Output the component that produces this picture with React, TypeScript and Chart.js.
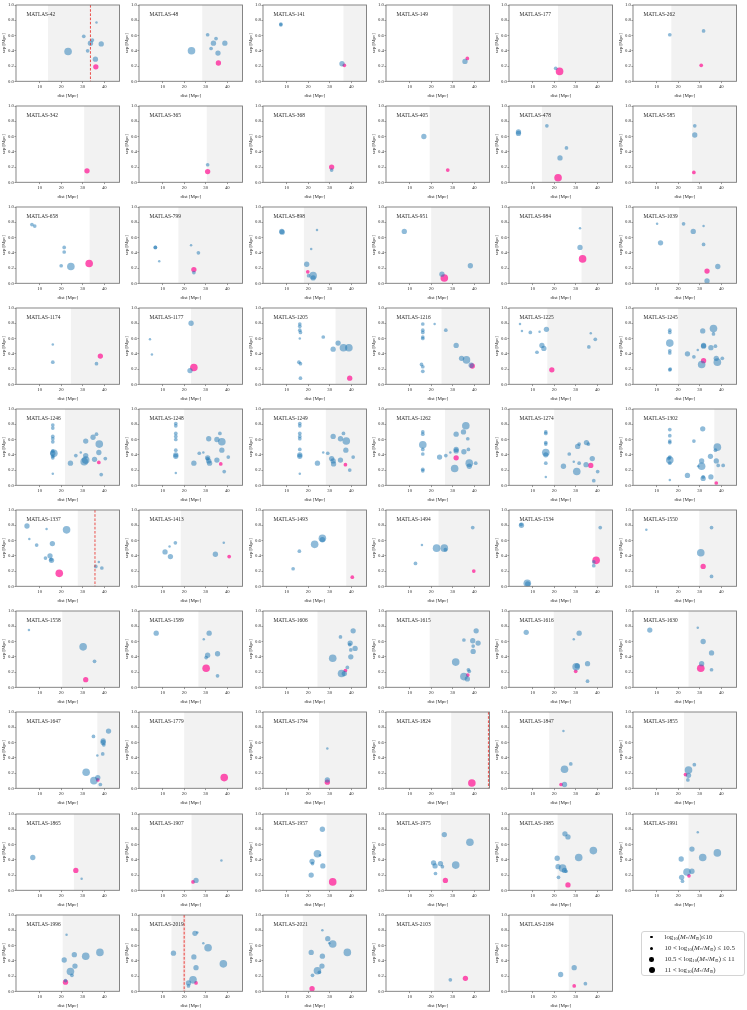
import React, { useEffect, useRef } from "react";
import { Chart, registerables } from "chart.js";

Chart.register(...registerables);

type Pt = [number, number, number]; // x [Mpc], sep [Mpc], mass class 1..4

const names: string[] = [
  "MATLAS-42", "MATLAS-48", "MATLAS-141", "MATLAS-149", "MATLAS-177", "MATLAS-262",
  "MATLAS-342", "MATLAS-365", "MATLAS-368", "MATLAS-405", "MATLAS-478", "MATLAS-585",
  "MATLAS-658", "MATLAS-799", "MATLAS-898", "MATLAS-951", "MATLAS-984", "MATLAS-1039",
  "MATLAS-1174", "MATLAS-1177", "MATLAS-1205", "MATLAS-1216", "MATLAS-1225", "MATLAS-1245",
  "MATLAS-1246", "MATLAS-1248", "MATLAS-1249", "MATLAS-1262", "MATLAS-1274", "MATLAS-1302",
  "MATLAS-1337", "MATLAS-1413", "MATLAS-1493", "MATLAS-1494", "MATLAS-1534", "MATLAS-1550",
  "MATLAS-1558", "MATLAS-1589", "MATLAS-1606", "MATLAS-1615", "MATLAS-1616", "MATLAS-1630",
  "MATLAS-1647", "MATLAS-1779", "MATLAS-1794", "MATLAS-1824", "MATLAS-1847", "MATLAS-1855",
  "MATLAS-1865", "MATLAS-1907", "MATLAS-1957", "MATLAS-1975", "MATLAS-1985", "MATLAS-1991",
  "MATLAS-1996", "MATLAS-2019", "MATLAS-2021", "MATLAS-2103", "MATLAS-2184",
];

const shadeFrom: number[] = [
  13.9, 28.4, 36.4, 30.0, 21.8, 16.8,
  30.7, 30.5, 27.7, 19.3, 14.3, 26.4,
  33.2, 17.3, 18.0, 20.0, 32.7, 20.5,
  24.5, 23.2, 32.7, 24.8, 16.8, 20.0,
  21.8, 20.0, 28.2, 26.4, 20.0, 36.8,
  27.7, 18.4, 37.7, 23.4, 39.1, 29.8,
  20.5, 26.6, 24.3, 19.3, 19.8, 24.8,
  36.8, 20.0, 25.0, 29.3, 17.7, 22.7,
  25.9, 23.4, 28.6, 24.5, 21.6, 24.8,
  20.7, 14.1, 17.5, 21.4, 26.8,
];

// [panel index, x of red dashed line]
const dashLines: [number, number][] = [[0, 33.6], [30, 35.7], [45, 46.6], [55, 20.0]];
// [panel index, from, to] light red band
const dashBands: [number, number, number][] = [[55, 19.4, 20.6]];

const bluePts: Pt[][] = [
  [[36.4,0.77,1],[30.5,0.59,2],[34.5,0.54,2],[33.6,0.50,3],[38.6,0.49,3],[23.2,0.39,4],[32.3,0.40,2],[35.9,0.29,3]],
  [[30.9,0.61,2],[34.8,0.56,2],[33.6,0.50,3],[38.9,0.50,3],[32.5,0.43,2],[35.7,0.37,3],[23.4,0.40,4]],
  [[7.3,0.75,2],[7.3,0.74,2],[35.7,0.23,3]],
  [[35.7,0.26,3]],
  [[20.7,0.17,2]],
  [[16.1,0.61,2],[31.8,0.66,2]],
  [],
  [[30.9,0.23,2]],
  [[30.9,0.16,2]],
  [[16.6,0.60,3]],
  [[3.4,0.66,3],[3.4,0.64,3],[16.6,0.74,2],[25.7,0.45,2],[22.7,0.32,3]],
  [[27.7,0.74,2],[27.7,0.62,3]],
  [[6.4,0.77,2],[7.7,0.75,2],[21.4,0.47,2],[21.4,0.41,2],[20.0,0.23,2],[24.5,0.22,4]],
  [[6.6,0.47,2],[6.6,0.47,2],[8.4,0.29,1],[23.2,0.50,1],[26.6,0.40,2],[24.5,0.14,2]],
  [[7.7,0.68,3],[7.9,0.67,3],[24.1,0.70,1],[21.4,0.45,1],[19.3,0.25,3],[22.3,0.10,4],[20.2,0.10,2],[22.3,0.07,3]],
  [[7.5,0.68,3],[25.0,0.12,3],[38.2,0.23,3]],
  [[32.0,0.72,1],[32.0,0.47,3]],
  [[10.2,0.78,1],[11.8,0.53,3],[22.5,0.78,2],[27.0,0.68,3],[31.8,0.75,1],[31.8,0.51,2],[38.4,0.22,3],[33.4,0.03,3]],
  [[16.1,0.52,1],[16.1,0.29,2],[36.4,0.27,2]],
  [[4.1,0.59,1],[5.0,0.39,1],[23.2,0.80,3],[22.7,0.18,3]],
  [[16.1,0.79,2],[16.1,0.76,2],[16.1,0.71,2],[16.4,0.68,2],[16.1,0.60,1],[15.7,0.29,2],[16.4,0.27,2],[16.4,0.08,2],[27.0,0.62,2],[31.6,0.46,3],[33.9,0.54,3],[36.4,0.48,4],[38.9,0.48,4]],
  [[16.1,0.79,2],[16.1,0.71,2],[16.1,0.68,2],[16.1,0.62,2],[16.1,0.60,2],[15.5,0.26,2],[16.1,0.23,2],[16.1,0.17,2],[21.6,0.79,1],[26.8,0.71,2],[31.6,0.51,3],[34.1,0.34,3],[36.4,0.32,4],[38.6,0.25,3]],
  [[4.1,0.79,1],[5.0,0.70,1],[8.9,0.68,2],[13.2,0.69,1],[16.4,0.72,3],[12.0,0.42,2],[14.3,0.51,3],[15.2,0.47,3],[37.0,0.67,1],[39.1,0.59,2],[36.1,0.49,2]],
  [[16.1,0.71,2],[16.1,0.68,2],[16.1,0.54,4],[16.1,0.44,2],[16.1,0.41,2],[16.1,0.19,2],[16.3,0.20,2],[24.3,0.40,3],[27.3,0.36,2],[29.1,0.45,1],[31.4,0.70,3],[31.8,0.50,3],[31.8,0.51,3],[30.9,0.26,4],[35.2,0.48,3],[36.4,0.73,4],[36.4,0.66,2],[37.3,0.50,2],[37.7,0.34,3],[38.2,0.29,4],[40.5,0.34,2]],
  [[16.1,0.79,2],[16.1,0.75,2],[16.1,0.64,2],[16.1,0.61,2],[16.1,0.57,2],[16.1,0.45,2],[16.1,0.42,3],[16.1,0.38,2],[16.1,0.36,2],[16.1,0.15,1],[16.6,0.42,4],[24.3,0.29,3],[26.8,0.39,2],[29.1,0.43,1],[31.4,0.58,3],[31.4,0.39,3],[31.4,0.33,4],[30.7,0.31,4],[34.8,0.63,3],[36.4,0.67,2],[35.5,0.34,3],[37.7,0.54,4],[37.5,0.43,3],[40.5,0.35,2],[38.6,0.14,2]],
  [[16.1,0.81,2],[16.1,0.78,2],[16.1,0.68,2],[16.1,0.64,2],[16.1,0.60,2],[16.1,0.46,2],[16.1,0.40,3],[16.1,0.38,3],[16.1,0.16,1],[24.5,0.29,3],[27.0,0.42,2],[28.9,0.43,1],[31.4,0.61,3],[30.9,0.36,3],[31.4,0.32,3],[31.8,0.29,3],[30.9,0.35,2],[35.2,0.60,3],[36.6,0.68,2],[37.5,0.57,4],[37.5,0.46,3],[35.2,0.33,3],[40.5,0.37,2],[38.6,0.18,2]],
  [[16.1,0.81,2],[16.1,0.78,2],[16.1,0.68,2],[16.1,0.64,2],[16.1,0.61,2],[16.1,0.47,2],[16.1,0.40,3],[16.1,0.38,3],[16.1,0.15,1],[24.3,0.29,3],[27.0,0.43,1],[29.1,0.42,2],[31.6,0.64,3],[30.9,0.35,3],[31.6,0.32,3],[31.8,0.28,3],[35.0,0.61,3],[36.4,0.68,2],[37.7,0.58,4],[37.5,0.46,3],[35.0,0.33,3],[40.9,0.37,2],[39.3,0.20,2]],
  [[16.1,0.70,2],[16.1,0.67,2],[16.1,0.53,4],[16.1,0.47,2],[16.1,0.41,2],[16.1,0.21,2],[16.1,0.19,2],[23.9,0.37,3],[26.8,0.39,2],[28.9,0.43,1],[31.6,0.67,3],[31.6,0.47,3],[31.6,0.45,3],[30.9,0.22,4],[35.0,0.70,3],[36.1,0.78,4],[37.0,0.61,2],[37.3,0.47,2],[35.2,0.44,3],[37.7,0.29,4],[37.7,0.25,3],[40.7,0.29,2]],
  [[16.1,0.70,2],[16.1,0.68,2],[16.1,0.56,2],[16.1,0.54,2],[16.1,0.43,4],[16.1,0.40,3],[16.1,0.29,2],[16.1,0.11,1],[24.3,0.25,3],[27.0,0.41,2],[29.1,0.31,1],[30.9,0.51,3],[31.6,0.54,2],[30.5,0.18,4],[31.6,0.29,2],[35.0,0.56,3],[35.9,0.54,2],[37.7,0.35,3],[40.2,0.18,2],[38.4,0.06,2],[34.8,0.27,3]],
  [[16.1,0.73,2],[16.1,0.65,2],[16.1,0.58,2],[16.1,0.56,2],[16.1,0.37,2],[16.1,0.33,4],[16.1,0.29,2],[16.1,0.07,1],[15.7,0.35,2],[24.3,0.13,3],[27.3,0.58,2],[29.3,0.25,1],[31.4,0.74,3],[30.9,0.32,3],[30.9,0.25,4],[31.6,0.09,3],[31.6,0.11,2],[35.0,0.38,3],[37.3,0.46,2],[38.2,0.50,4],[35.2,0.11,3],[37.7,0.32,3],[38.6,0.26,2],[40.9,0.26,2]],
  [[4.1,0.79,3],[5.2,0.62,1],[8.6,0.54,2],[13.2,0.75,1],[22.5,0.74,4],[15.9,0.56,3],[12.7,0.37,2],[14.8,0.40,3],[15.5,0.34,3],[15.3,0.35,2],[37.5,0.32,1],[36.1,0.26,2],[38.9,0.24,2]],
  [[11.1,0.45,3],[13.2,0.52,1],[15.9,0.57,2],[13.6,0.39,3],[34.5,0.42,3],[38.4,0.57,1]],
  [[13.0,0.23,2],[15.9,0.46,2],[23.0,0.55,4],[26.6,0.63,4],[26.6,0.61,3]],
  [[12.7,0.30,2],[15.7,0.54,1],[22.5,0.50,4],[26.1,0.50,4],[26.6,0.48,2],[39.3,0.77,2]],
  [[4.8,0.80,3],[4.6,0.81,2],[7.5,0.04,4],[7.7,0.03,3],[38.4,0.32,2],[38.4,0.27,2],[41.4,0.77,2]],
  [[5.2,0.74,1],[30.5,0.44,4],[35.5,0.77,2],[35.5,0.13,2]],
  [[5.0,0.75,1],[30.2,0.53,4],[35.5,0.34,2]],
  [[7.0,0.71,3],[29.1,0.63,1],[31.6,0.71,3],[30.9,0.42,3],[30.2,0.39,2],[35.5,0.44,3],[35.5,0.15,2]],
  [[31.4,0.38,4],[35.0,0.66,2],[40.9,0.74,3],[39.5,0.58,3],[39.3,0.56,2],[39.8,0.49,2],[39.8,0.40,3],[41.8,0.51,3],[38.2,0.26,2],[35.5,0.18,4],[36.8,0.18,3]],
  [[35.2,0.62,2],[40.9,0.74,3],[39.3,0.61,3],[41.8,0.58,3],[39.5,0.54,2],[39.5,0.47,3],[31.4,0.33,4],[35.2,0.14,4],[37.3,0.23,2],[37.7,0.21,2],[36.8,0.11,3]],
  [[7.0,0.72,3],[29.1,0.63,1],[31.6,0.71,3],[30.2,0.27,4],[30.7,0.28,3],[35.5,0.31,3],[35.5,0.08,2]],
  [[6.8,0.75,3],[29.1,0.78,1],[31.6,0.60,3],[35.5,0.45,3],[30.9,0.31,3],[35.5,0.23,2]],
  [[35.0,0.68,2],[42.0,0.75,3],[39.5,0.62,3],[39.5,0.60,3],[39.8,0.57,2],[39.3,0.45,2],[36.8,0.43,1],[31.6,0.21,4],[35.2,0.10,4],[37.0,0.14,3],[38.2,0.05,2]],
  [],
  [[28.9,0.52,1],[28.9,0.11,3]],
  [],
  [[24.3,0.75,1],[27.7,0.32,2],[24.8,0.25,4],[24.8,0.05,3]],
  [[27.5,0.31,2],[24.8,0.24,4],[24.8,0.17,3],[24.5,0.11,2]],
  [[6.8,0.43,3],[29.5,0.15,1]],
  [[37.3,0.39,1],[25.5,0.13,3]],
  [[26.6,0.80,3],[24.3,0.48,4],[25.5,0.46,1],[21.8,0.38,3],[22.0,0.35,2],[26.8,0.32,3],[21.4,0.20,3]],
  [[26.1,0.73,3],[38.0,0.63,4],[21.1,0.36,3],[21.8,0.32,3],[24.3,0.35,3],[25.2,0.31,2],[31.4,0.33,4],[22.0,0.22,2]],
  [[25.0,0.74,3],[26.4,0.70,3],[21.4,0.42,3],[21.8,0.31,3],[23.9,0.29,4],[24.8,0.26,3],[25.5,0.25,2],[22.0,0.17,2],[31.4,0.43,4],[38.2,0.52,4]],
  [[29.1,0.76,1],[26.4,0.54,3],[21.4,0.41,3],[31.4,0.43,4],[38.2,0.49,4],[24.1,0.24,4],[26.4,0.25,3],[21.6,0.17,3],[22.0,0.12,2]],
  [[22.5,0.74,1],[21.4,0.41,3],[26.1,0.48,3],[31.4,0.46,4],[38.0,0.51,4],[26.4,0.33,3],[24.3,0.26,4],[25.0,0.21,2],[22.0,0.14,2]],
  [[25.0,0.76,3],[26.1,0.77,1],[28.9,0.63,1],[31.1,0.57,4],[15.0,0.50,3],[24.5,0.45,3],[25.5,0.31,3],[38.2,0.36,4],[24.1,0.15,4],[22.0,0.11,3],[22.0,0.07,2]],
  [[26.6,0.80,1],[29.1,0.69,3],[31.4,0.62,4],[29.8,0.63,1],[38.2,0.51,4],[21.4,0.51,3],[26.6,0.46,3],[26.4,0.33,3],[24.3,0.27,4],[25.2,0.25,2],[22.0,0.21,2]],
  [[28.9,0.15,2]],
  [[23.0,0.22,3],[29.3,0.31,3],[34.5,0.10,2]],
];

const pinkPts: Pt[][] = [
  [[36.1,0.19,3]], [[35.9,0.24,3]], [[36.8,0.21,2]], [[36.8,0.30,2]], [[22.5,0.13,4]], [[30.7,0.21,2]],
  [[32.0,0.15,3]], [[30.9,0.14,3]], [[30.9,0.20,3]], [[27.7,0.16,2]], [[21.8,0.06,4]], [[27.3,0.13,2]],
  [[33.0,0.26,4]], [[24.5,0.18,3]], [[19.8,0.15,2]], [[26.1,0.07,4]], [[33.2,0.32,4]], [[33.4,0.16,3]],
  [[38.2,0.37,3]], [[24.5,0.22,4]], [[39.3,0.08,3]], [[39.1,0.24,3]], [[18.9,0.19,3]], [[31.8,0.31,3]],
  [[37.5,0.30,2]], [[37.0,0.28,2]], [[37.3,0.27,2]], [[31.6,0.36,3]], [[37.0,0.26,3]], [[37.7,0.03,2]],
  [[19.1,0.17,4]], [[40.9,0.39,2]], [[40.5,0.12,2]], [[39.8,0.20,2]], [[39.5,0.34,4]], [[31.6,0.26,3]],
  [[31.4,0.10,3]], [[30.2,0.25,4]], [[37.3,0.22,2]], [[37.0,0.16,2]], [[30.0,0.21,2]], [[30.5,0.25,4]],
  [[37.0,0.11,2]], [[38.6,0.14,4]], [[28.9,0.08,3]], [[38.9,0.07,4]], [[23.2,0.05,2]], [[23.4,0.18,2]],
  [[26.8,0.26,3]], [[24.1,0.11,2]], [[31.4,0.11,4]], [[26.6,0.13,3]], [[26.4,0.07,3]], [[25.0,0.19,2]],
  [[22.0,0.12,3]], [[25.5,0.11,2]], [[21.8,0.035,3]], [[35.9,0.17,3]], [[29.3,0.07,2]],
];

const xTicks = [10, 20, 30, 40];
const yTicks = [0, 0.2, 0.4, 0.6, 0.8, 1.0];
const sizeRadius = [0, 1.25, 1.85, 2.65, 3.8];

const legendPrefix = ["", "10 < ", "10.5 < ", "11 < "];
const legendSuffix = ["≤10", " ≤ 10.5", " ≤ 11", ""];
const legendRadius = [1.3, 1.8, 2.3, 3.1];

// geometry / style
const X_MIN = -1, X_MAX = 47.1;
const COLS = 6;
const COL0 = 16, COL_STEP = 123.3, ROW0 = 4.7, ROW_STEP = 101.1;
const BOX_W = 103.5, BOX_H = 76.3;
const PAD_L = 16, PAD_T = 5, CW = 124, CH = 100;
const SERIF = "'Liberation Serif', 'DejaVu Serif', serif";
const BLUE = "rgba(31,119,180,0.5)";
const PINK = "rgba(255,20,147,0.72)";
const SHADE = "#f2f2f2";
const FRAME = "#7a7a7a";
const TXT = "#2a2a2a";

function makeDeco(i: number) {
  return {
    id: "deco" + i,
    beforeDatasetsDraw(chart: any) {
      const { ctx, chartArea: a, scales } = chart;
      const x = scales.x;
      ctx.save();
      const sx = x.getPixelForValue(shadeFrom[i]);
      ctx.fillStyle = SHADE;
      ctx.fillRect(sx, a.top, a.right - sx, a.bottom - a.top);
      dashBands.filter((b) => b[0] === i).forEach((b) => {
        const x0 = x.getPixelForValue(b[1]);
        const x1 = x.getPixelForValue(b[2]);
        ctx.fillStyle = "rgba(255,90,90,0.12)";
        ctx.fillRect(x0, a.top, x1 - x0, a.bottom - a.top);
      });
      ctx.restore();
    },
    afterDatasetsDraw(chart: any) {
      const { ctx, chartArea: a, scales } = chart;
      ctx.save();
      dashLines.filter((d) => d[0] === i).forEach((d) => {
        const px = scales.x.getPixelForValue(d[1]);
        ctx.strokeStyle = "#e8261f";
        ctx.lineWidth = 0.8;
        ctx.setLineDash([2.6, 1.6]);
        ctx.beginPath();
        ctx.moveTo(px, a.top);
        ctx.lineTo(px, a.bottom);
        ctx.stroke();
      });
      ctx.restore();
    },
    afterDraw(chart: any) {
      const { ctx, chartArea: a } = chart;
      ctx.save();
      ctx.strokeStyle = FRAME;
      ctx.lineWidth = 0.9;
      ctx.strokeRect(a.left, a.top, a.right - a.left, a.bottom - a.top);
      ctx.fillStyle = TXT;
      ctx.font = `5.4px ${SERIF}`;
      ctx.textBaseline = "middle";
      ctx.textAlign = "left";
      ctx.fillText(names[i], a.left + 10.5, a.top + 9.3);
      ctx.restore();
    },
  };
}

function Panel({ idx }: { idx: number }) {
  const ref = useRef<HTMLCanvasElement>(null);
  const c = idx % COLS;
  const r = Math.floor(idx / COLS);
  const left = Math.round(COL0 + c * COL_STEP) - PAD_L;
  const top = Math.round(ROW0 + r * ROW_STEP) - PAD_T;

  useEffect(() => {
    const canvas = ref.current;
    if (!canvas) return;
    const blue = bluePts[idx];
    const pink = pinkPts[idx];
    const chart = new Chart(canvas, {
      type: "scatter",
      data: {
        datasets: [
          {
            data: blue.map((p) => ({ x: p[0], y: p[1] })),
            pointRadius: blue.map((p) => sizeRadius[p[2]]),
            pointBackgroundColor: BLUE,
            pointBorderWidth: 0,
            pointBorderColor: "rgba(0,0,0,0)",
          },
          {
            data: pink.map((p) => ({ x: p[0], y: p[1] })),
            pointRadius: pink.map((p) => sizeRadius[p[2]]),
            pointBackgroundColor: PINK,
            pointBorderWidth: 0,
            pointBorderColor: "rgba(0,0,0,0)",
          },
        ],
      },
      options: {
        responsive: false,
        animation: false,
        devicePixelRatio: 1,
        events: [],
        layout: { padding: { left: 0, top: PAD_T, right: CW - PAD_L - BOX_W, bottom: 0 } },
        plugins: { legend: { display: false }, tooltip: { enabled: false } },
        scales: {
          x: {
            type: "linear",
            min: X_MIN,
            max: X_MAX,
            afterBuildTicks: (s: any) => {
              s.ticks = xTicks.map((v) => ({ value: v }));
            },
            afterFit: (s: any) => {
              s.height = CH - PAD_T - BOX_H;
            },
            border: { display: false },
            grid: { drawOnChartArea: false, drawTicks: true, tickLength: 1.8, color: "#555", lineWidth: 0.6 },
            ticks: { font: { family: SERIF, size: 4.7 }, color: TXT, padding: 1.0, maxRotation: 0, autoSkip: false },
            title: { display: true, text: "dist [Mpc]", font: { family: SERIF, size: 4.9 }, color: TXT, padding: { top: 0, bottom: 1.8 } },
          },
          y: {
            type: "linear",
            min: 0,
            max: 1,
            afterBuildTicks: (s: any) => {
              s.ticks = yTicks.map((v) => ({ value: v }));
            },
            afterFit: (s: any) => {
              s.width = PAD_L;
            },
            border: { display: false },
            grid: { drawOnChartArea: false, drawTicks: true, tickLength: 1.5, color: "#555", lineWidth: 0.6 },
            ticks: {
              font: { family: SERIF, size: 4.7 },
              color: TXT,
              padding: 0.6,
              autoSkip: false,
              callback: (v: any) => Number(v).toFixed(1),
            },
            title: { display: true, text: "sep [Mpc]", font: { family: SERIF, size: 4.9 }, color: TXT, padding: { top: 1.1, bottom: 0 } },
          },
        },
      } as any,
      plugins: [makeDeco(idx)],
    });
    return () => chart.destroy();
  }, [idx]);

  return (
    <canvas
      ref={ref}
      width={CW}
      height={CH}
      style={{ position: "absolute", left, top, width: CW, height: CH }}
    />
  );
}

function MassLabel({ i }: { i: number }) {
  const sub: React.CSSProperties = { fontSize: "68%", verticalAlign: "-0.3em", lineHeight: 0 };
  return (
    <span>
      {legendPrefix[i]}log<sub style={sub}>10</sub>(<i>M</i>
      <sub style={sub}>*</sub>/<i>M</i>
      <sub style={sub}>⊙</sub>){legendSuffix[i]}
    </span>
  );
}

function Legend() {
  const rowsY = [5, 16.3, 27.3, 38.3];
  return (
    <div
      style={{
        position: "absolute",
        left: 641,
        top: 931,
        width: 102,
        height: 43,
        border: "1px solid #d4d4d4",
        borderRadius: 3,
        background: "#fff",
        fontFamily: SERIF,
        fontSize: 6.8,
        color: TXT,
      }}
    >
      {legendRadius.map((rad, i) => (
        <React.Fragment key={i}>
          <div
            style={{
              position: "absolute",
              left: 9.7 - rad,
              top: rowsY[i] - rad,
              width: rad * 2,
              height: rad * 2,
              borderRadius: "50%",
              background: "#000",
            }}
          />
          <div
            style={{
              position: "absolute",
              left: 22.5,
              top: rowsY[i] - 5,
              height: 10,
              lineHeight: "10px",
              whiteSpace: "nowrap",
            }}
          >
            <MassLabel i={i} />
          </div>
        </React.Fragment>
      ))}
    </div>
  );
}

export default function App() {
  return (
    <div
      style={{
        position: "absolute",
        left: 0,
        top: 0,
        width: 747,
        height: 1010,
        background: "#fff",
        overflow: "hidden",
      }}
    >
      {names.map((n, i) => (
        <Panel key={n} idx={i} />
      ))}
      <Legend />
    </div>
  );
}
